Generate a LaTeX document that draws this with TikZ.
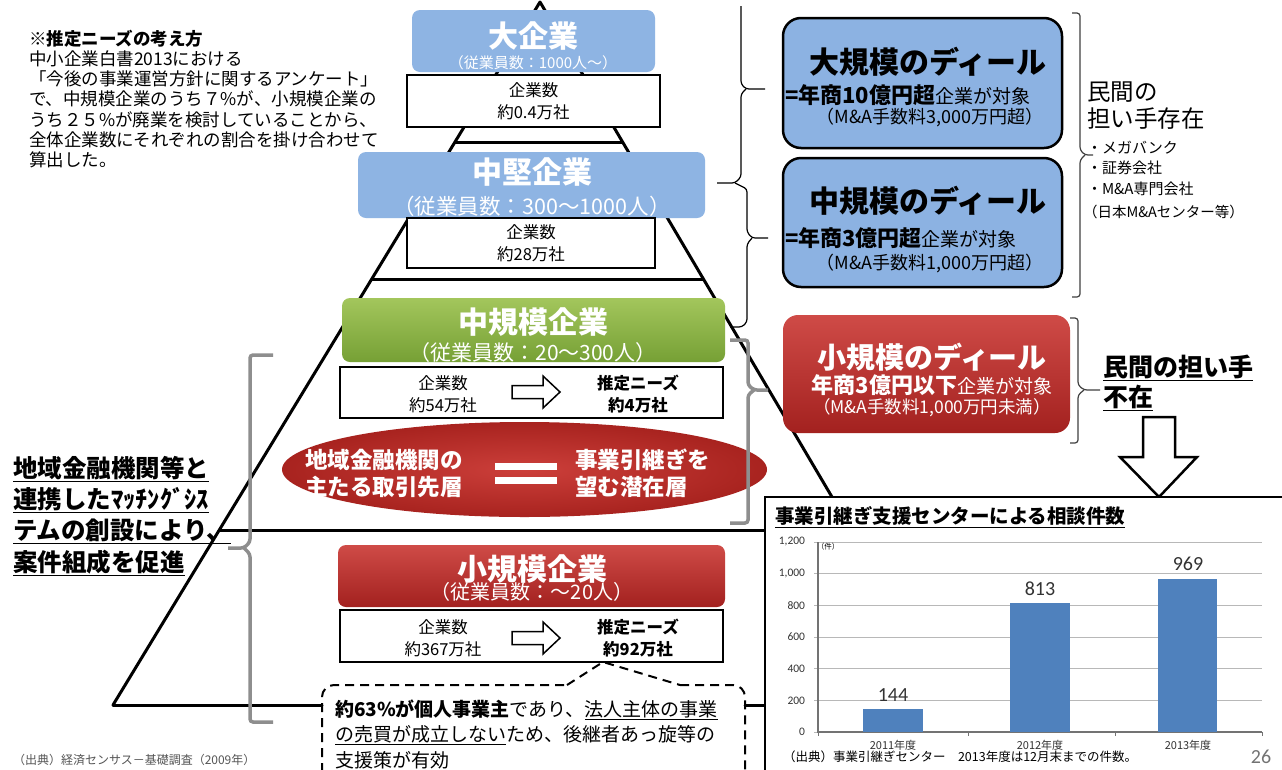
\documentclass[tikz,border=0pt]{standalone}
\usepackage{fontspec}
\setmainfont{Noto Sans CJK JP}
\newfontfamily\carl{Carlito}
\usetikzlibrary{shapes.geometric}
\definecolor{lblue}{HTML}{8EB4E3}
\definecolor{dblue}{HTML}{8CB2E2}
\definecolor{redtop}{HTML}{CF4B47}
\definecolor{redbot}{HTML}{A3211F}
\definecolor{ellin}{HTML}{CC3F3A}
\definecolor{ellout}{HTML}{A8231F}
\definecolor{grntop}{HTML}{A3C65C}
\definecolor{grnbot}{HTML}{76A035}
\definecolor{barblue}{HTML}{4F81BD}
\definecolor{gridgray}{HTML}{B8B8B8}
\definecolor{brgray}{HTML}{8E8E8E}
\definecolor{capgray}{HTML}{555555}
\newcommand{\fsz}[2]{\fontsize{#1}{#2}\selectfont}
\newcommand{\outarrow}[2]{\draw[line width=1.5pt,fill=white,line join=miter] (#1,#2-6.5) -- ++(31,0) -- ++(0,-9.5) -- ++(17,16) -- ++(-17,16) -- ++(0,-9.5) -- ++(-31,0) -- cycle;}
\begin{document}
\begin{tikzpicture}[x=1pt,y=-1pt,
  every node/.style={inner sep=0pt,outer sep=0pt},
  pyr/.style={line width=3pt,line join=round,line cap=round},
  wbox/.style={draw=black,line width=1.8pt,fill=white},
  cnt/.style={align=center,font=\fsz{16.5}{22}},
  need/.style={align=center,font=\bfseries\fsz{16.5}{22}},
  tierT/.style={text=white,font=\bfseries\fsz{30}{30}},
  tierS/.style={text=white},
  brc/.style={line width=1.2pt,black,rounded corners=3pt},
  gbr/.style={line width=3.5pt,brgray,rounded corners=3pt},
  dealbox/.style={draw=black,line width=2.5pt,fill=dblue,rounded corners=18pt},
  dealT/.style={font=\bfseries\fsz{30}{30}},
  grid/.style={gridgray,line width=1pt}]
\useasboundingbox (0,0) rectangle (1282,769);
\fill[white] (0,0) rectangle (1282,769);

% ---- explanatory note
\node[anchor=north west,align=left,font=\fsz{17.5}{20.2}] (note) at (29,30)
 {\textbf{※推定ニーズの考え方}\\中小企業白書2013における\\「今後の事業運営方針に関するアンケート」\\で、中規模企業のうち７\%が、小規模企業の\\うち２５\%が廃業を検討していることから、\\全体企業数にそれぞれの割合を掛け合わせて\\算出した。};

% ---- left statement
\node[anchor=west,align=left,font=\bfseries\fsz{24.5}{31.3}] (lefttxt) at (13,516)
 {\underline{地域金融機関等と}\\\underline{連携したﾏｯﾁﾝｸﾞｼｽ}\\\underline{テムの創設により、}\\\underline{案件組成を促進}};

% ---- pyramid
\coordinate (apex) at (540,2);
\coordinate (bl) at (113,705);
\coordinate (br) at (832,497);
\draw[pyr] (bl) -- (apex) -- (br);
\draw[pyr] (455,142) -- (622,142);
\draw[pyr] (372,279) -- (703,279);
\draw[pyr] (220,530) -- (765,530);
\draw[pyr] (bl) -- (322,705);
\draw[pyr] (745,705) -- (765,705);

% ---- thin braces
\draw[brc] (741,6) -- (741,84) -- (746,89) -- (765,89);
\draw[brc] (746,89) -- (741,94) -- (741,177) -- (735,183) -- (717,183);
\draw[brc] (735,183) -- (747,189) -- (747,232) -- (752,238) -- (768,238);
\draw[brc] (752,238) -- (747,244) -- (747,322) -- (742,327) -- (730,327);
\draw[brc,black!75] (1072,13) -- (1080,13) -- (1080,150) -- (1085,155) -- (1093,155);
\draw[brc,black!75] (1085,155) -- (1080,160) -- (1080,297) -- (1072,297);
\draw[brc,black!75] (1070,318) -- (1078,318) -- (1078,385) -- (1084,390) -- (1100,390);
\draw[brc,black!75] (1084,390) -- (1078,395) -- (1078,443) -- (1070,443);

% ---- large companies
\node[fill=lblue,rounded corners=8pt,minimum width=243,minimum height=62] (large) at (533.5,41) {};
\node[tierT] (largeT) at (533,36) {大企業};
\node[tierS,font=\fsz{15}{15}] (largeS) at (533,63) {（従業員数：1000人～）};
\node[wbox,cnt,minimum width=253,minimum height=52] (wb1) at (533.5,101) {企業数\\約0.4万社};

% ---- mid-sized companies
\node[fill=lblue,rounded corners=8pt,minimum width=347,minimum height=66] (mid) at (531.5,185) {};
\node[tierT] (midT) at (532,172) {中堅企業};
\node[tierS,font=\fsz{21.5}{21.5}] (midS) at (532,206) {（従業員数：300～1000人）};
\node[wbox,cnt,minimum width=248,minimum height=50] (wb2) at (531,243) {企業数\\約28万社};

% ---- medium companies
\node[top color=grntop,bottom color=grnbot,rounded corners=8pt,minimum width=383,minimum height=64] (med) at (533.5,330) {};
\node[tierT] (medT) at (533,322) {中規模企業};
\node[tierS,font=\fsz{21}{21}] (medS) at (533,353) {（従業員数：20～300人）};
\node[wbox,minimum width=383,minimum height=51] (wb3) at (531.5,392.5) {};
\node[cnt] (wb3a) at (443,394) {企業数\\約54万社};
\node[need] (wb3b) at (638,394) {推定ニーズ\\約4万社};
\outarrow{512}{392}

% ---- ellipse
\node[ellipse,inner color=ellin,outer color=ellout,minimum width=485,minimum height=95] (ell) at (524.5,469.5) {};
\node[anchor=west,align=left,text=white,font=\bfseries\fsz{22.5}{27}] (ellL) at (305,473) {地域金融機関の\\主たる取引先層};
\node[anchor=west,align=left,text=white,font=\bfseries\fsz{22.5}{27}] (ellR) at (575,473) {事業引継ぎを\\望む潜在層};
\fill[white] (495,463) rectangle (557,470);
\fill[white] (495,477) rectangle (557,484);

% ---- small companies
\node[top color=redtop,bottom color=redbot,rounded corners=8pt,minimum width=387,minimum height=62] (small) at (531.5,576) {};
\node[tierT] (smallT) at (532,569) {小規模企業};
\node[tierS,font=\fsz{20}{20}] (smallS) at (532,592) {（従業員数：～20人）};
\node[wbox,minimum width=383,minimum height=52] (wb4) at (531.5,636) {};
\node[cnt] (wb4a) at (443,638) {企業数\\約367万社};
\node[need] (wb4b) at (638,638) {推定ニーズ\\約92万社};
\outarrow{512}{638}

% ---- dashed callout
\coordinate (ptip) at (603,662);
\draw[dashed,line width=2pt,dash pattern=on 9pt off 6pt] (567,685) -- (ptip) -- (680,685);
\draw[dashed,line width=2pt,dash pattern=on 9pt off 6pt,rounded corners=12pt] (680,685) -- (745,685) -- (745,800) -- (322,800) -- (322,685) -- (567,685);
\node[anchor=west,align=left,font=\fsz{19}{25.5}] (callout) at (335,734)
 {{\bfseries 約63\%が個人事業主}であり、\underline{法人主体の事業}\\\underline{の売買が成立しない}ため、後継者あっ旋等の\\支援策が有効};

% ---- gray brackets
\draw[gbr] (273,355) -- (250,355) -- (250,542) -- (244,548) -- (228,548);
\draw[gbr] (244,548) -- (250,554) -- (250,722) -- (273,722);
\draw[gbr] (730,340) -- (748,340) -- (748,385) -- (754,390) -- (768,390);
\draw[gbr] (754,390) -- (748,395) -- (748,523) -- (730,523);

% ---- deal boxes
\node[dealbox,minimum width=279,minimum height=130] (dl) at (922.5,83) {};
\node[dealT] (dlT) at (928,62) {大規模のディール};
\node[anchor=west] (dl2) at (785,95) {{\bfseries\fsz{22}{22}=年商10億円超}{\fsz{19}{19}企業が対象}};
\node[font=\fsz{18}{18}] (dl3) at (930,118) {（M\&A手数料3,000万円超）};

\node[dealbox,minimum width=279,minimum height=129] (dm) at (922.5,222.5) {};
\node[dealT] (dmT) at (928,201) {中規模のディール};
\node[anchor=west] (dm2) at (785,238) {{\bfseries\fsz{22}{22}=年商3億円超}{\fsz{19}{19}企業が対象}};
\node[font=\fsz{18}{18}] (dm3) at (930,263) {（M\&A手数料1,000万円超）};

\node[anchor=west,align=left,font=\fsz{23.5}{27}] (priv) at (1087,106) {民間の\\担い手存在};
\node[anchor=west,align=left,font=\fsz{15}{20.5}] (privL) at (1087,168) {・メガバンク\\・証券会社\\・M\&A専門会社};
\node[anchor=west,font=\fsz{14.5}{14.5}] (privE) at (1083,212) {（日本M\&Aセンター等）};

\node[top color=redtop,bottom color=redbot,rounded corners=15pt,minimum width=287,minimum height=118] (ds) at (926.5,374) {};
\node[text=white,font=\bfseries\fsz{29}{29}] (dsT) at (932,357) {小規模のディール};
\node[text=white] (ds2) at (932,385) {{\bfseries\fsz{22}{22}年商3億円以下}{\fsz{19}{19}企業が対象}};
\node[text=white,font=\fsz{17.5}{17.5}] (ds3) at (932,408) {（M\&A手数料1,000万円未満）};
\node[anchor=west,align=left,font=\bfseries\fsz{25}{30}] (absent) at (1103,383) {\underline{民間の担い手}\\\underline{不在}};

% ---- down block arrow
\draw[line width=2.5pt,fill=white,line join=miter] (1143,417) -- (1175,417) -- (1175,457) -- (1197,457) -- (1159,497) -- (1120,457) -- (1143,457) -- cycle;

% ---- chart
\node[draw=black,line width=2.5pt,fill=white,minimum width=520,minimum height=290,anchor=north west] (chart) at (765,497) {};
\node[anchor=west,font=\bfseries\fsz{19.5}{19.5}] (ctitle) at (775,517) {\underline{事業引継ぎ支援センターによる相談件数}};
\foreach \v/\l in {200/200,400/400,600/600,800/800,1000/{1,000},1200/{1,200}}{
  \draw[grid] (818,732-\v*0.158333) -- (1262,732-\v*0.158333);}
\foreach \v/\l in {0/0,200/200,400/400,600/600,800/800,1000/{1,000},1200/{1,200}}{
  \node[anchor=east,font=\carl\fsz{11.5}{11.5},text=black!80] at (805,732-\v*0.158333) {\l};
  \draw[grid] (814,732-\v*0.158333) -- (818,732-\v*0.158333);}
\draw[black!55,line width=1.2pt] (818,542) -- (818,732) -- (1262,732);
\foreach \x in {818,968,1115,1262}{\draw[black!55,line width=1pt] (\x,732) -- (\x,736);}
\node[font=\fsz{7.5}{7.5}] (unit) at (828,547) {（件）};
\fill[barblue] (863,732) rectangle (923,709.2);
\fill[barblue] (1010,732) rectangle (1070,603.3);
\fill[barblue] (1158,732) rectangle (1217,578.6);
\node[font=\carl\fsz{20}{20},text=black!80] (v1) at (893,695) {144};
\node[font=\carl\fsz{20}{20},text=black!80] (v2) at (1040,589) {813};
\node[font=\carl\fsz{20}{20},text=black!80] (v3) at (1188,564) {969};
\node[font=\fsz{11}{11},text=black!80] (x1) at (893,745) {2011年度};
\node[font=\fsz{11}{11},text=black!80] (x2) at (1040,745) {2012年度};
\node[font=\fsz{11}{11},text=black!80] (x3) at (1188,745) {2013年度};
\node[anchor=west,font=\fsz{12.5}{12.5}] (csrc) at (783,757) {（出典）事業引継ぎセンター　2013年度は12月末までの件数。};
\node[font=\carl\fsz{20}{20},text=black!55] (pg) at (1261,757) {26};

% ---- bottom-left source
\node[anchor=west,font=\fsz{12}{12},text=capgray] (src) at (13,760) {（出典）経済センサス－基礎調査（2009年）};
\end{tikzpicture}
\end{document}
